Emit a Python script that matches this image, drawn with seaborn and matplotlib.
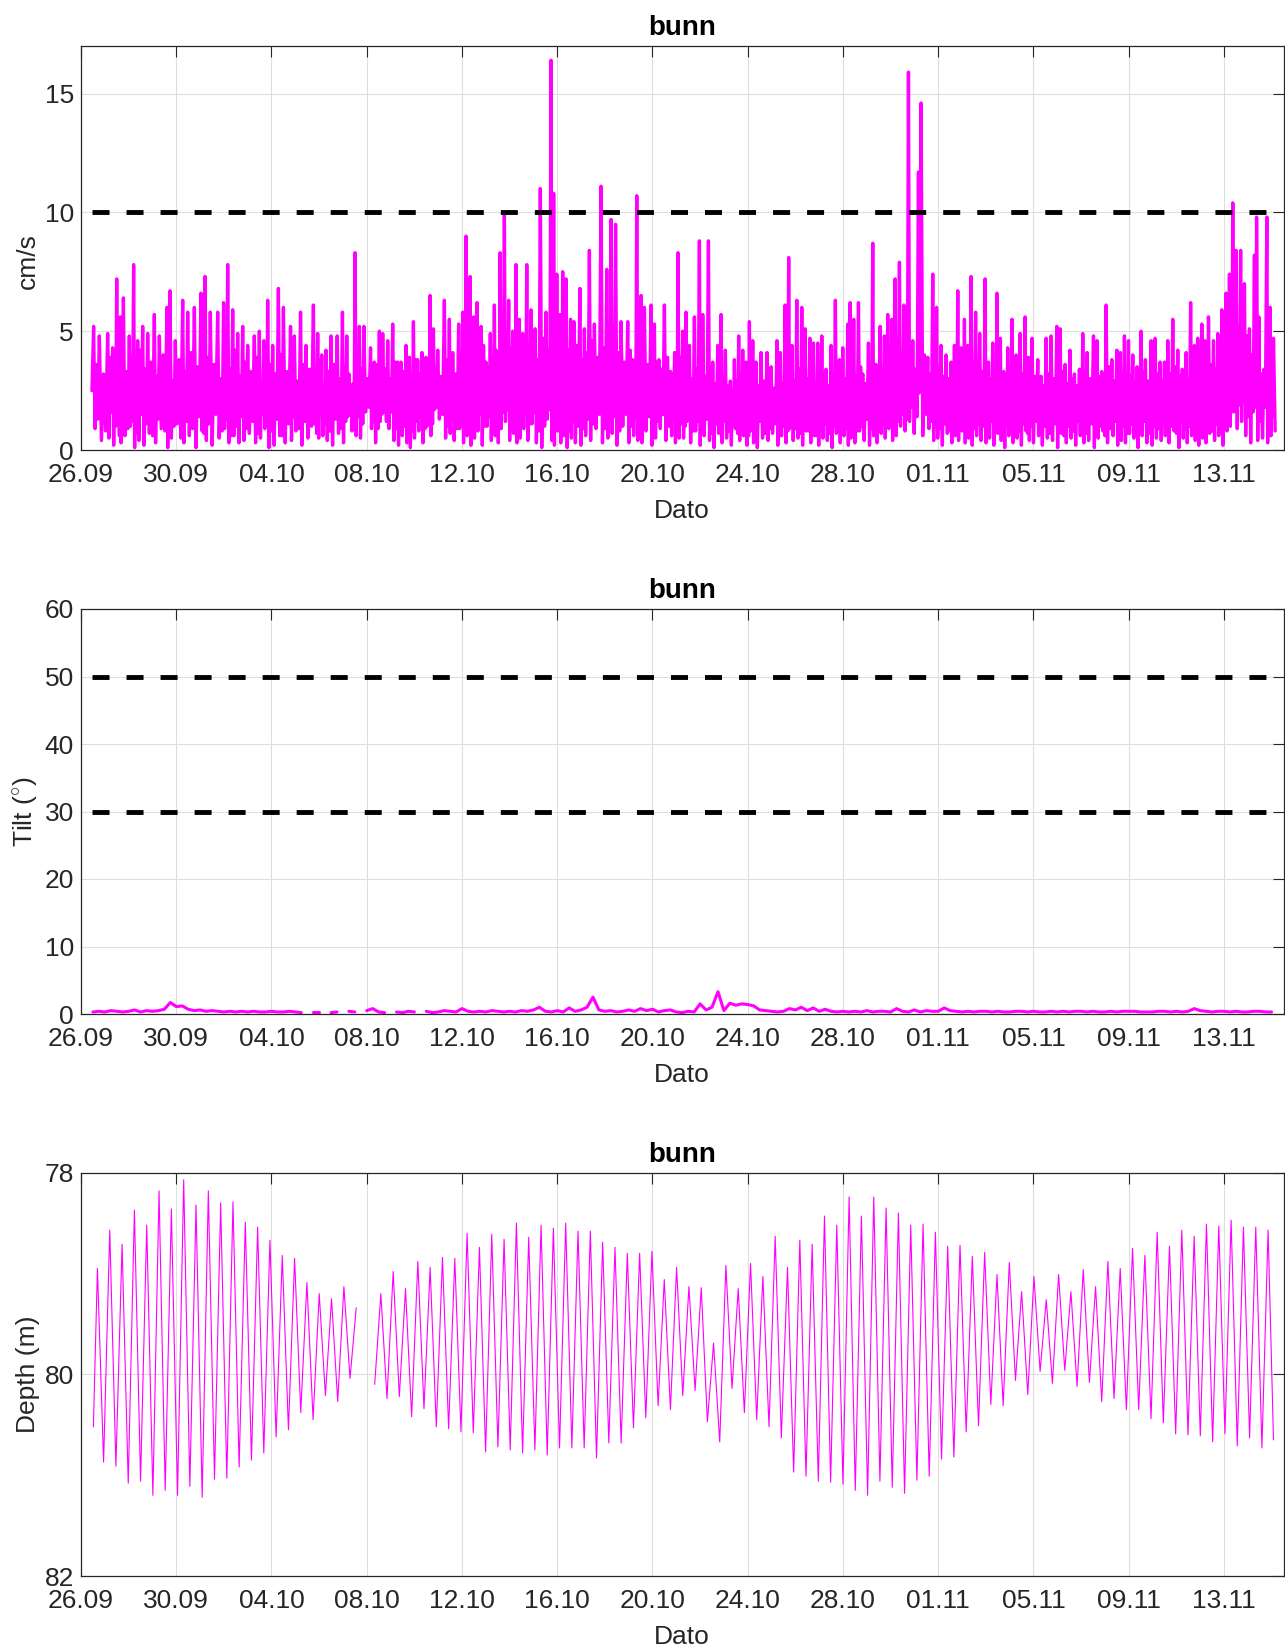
import numpy as np
import pandas as pd
import matplotlib
matplotlib.use("Agg")
import matplotlib.pyplot as plt
import matplotlib.dates as mdates
import seaborn as sns

# ---------------------------------------------------------------------------
# Data (times are days after 26.09 00:00)
# ---------------------------------------------------------------------------
START = pd.Timestamp("2022-09-26")

# Current speed (cm/s). Between two spike tops the record dips to a trough,
# rises to a smaller inner crest and dips again before the next spike.
speed_first = (0.46, 2.5)

speed_peak_day_a = [0.53, 0.77, 1.12, 1.33, 1.50, 1.65, 1.78, 2.03, 2.21, 2.38,
                    2.59, 2.80, 3.08, 3.29, 3.61, 3.74, 3.96, 4.27, 4.48, 4.76,
                    5.04, 5.21, 5.43, 5.74, 5.99, 6.16, 6.37, 6.58, 6.79, 7.00,
                    7.28, 7.49, 7.68, 7.84, 8.05, 8.29, 8.50, 8.80, 8.96, 9.22,
                    9.45, 9.76, 9.94, 10.11, 10.29, 10.50, 10.76, 10.98, 11.16, 11.34,
                    11.51, 11.69, 11.88, 12.16, 12.32, 12.53]
speed_peak_a = [5.2, 4.8, 4.9, 4.3, 7.2, 5.6, 6.4, 4.8, 7.8, 4.6,
                5.2, 4.9, 5.7, 4.8, 6.0, 6.7, 4.6, 6.3, 5.8, 6.0,
                6.6, 7.3, 5.8, 5.8, 6.2, 7.8, 5.9, 4.9, 5.2, 4.4,
                4.8, 5.0, 4.6, 6.3, 4.4, 6.8, 6.0, 5.2, 4.8, 5.8,
                4.4, 6.1, 4.9, 4.0, 4.2, 4.8, 4.8, 5.8, 4.8, 2.6,
                8.3, 5.2, 5.2, 4.3, 3.7, 5.0]
speed_trough_a = [0.9, 0.4, 0.5, 0.2, 1.2, 0.3, 0.6, 1.0, 0.1, 0.4,
                  0.2, 0.7, 0.3, 0.9, 0.1, 0.5, 1.1, 0.3, 0.6, 0.1,
                  0.8, 0.4, 0.2, 0.5, 0.9, 0.3, 0.6, 0.3, 0.4, 0.7,
                  0.3, 0.5, 0.9, 0.1, 0.2, 0.6, 0.3, 0.4, 0.8, 0.2,
                  0.5, 1.1, 0.5, 0.6, 0.4, 0.2, 0.7, 0.3, 1.4, 0.8,
                  0.6, 0.5, 1.6, 0.9, 0.3, 1.2]
speed_inner_a = [3.6, 3.2, 3.9, 2.8, 3.5, 4.1, 3.3, 3.8, 3.0, 4.2,
                 3.4, 3.7, 3.1, 4.0, 3.6, 2.9, 3.8, 3.3, 4.1, 3.5,
                 3.2, 3.9, 3.6, 3.0, 3.8, 3.4, 4.2, 3.1, 3.7, 3.3,
                 3.9, 2.8, 3.5, 3.6, 3.2, 4.0, 3.3, 3.7, 2.9, 3.6,
                 3.4, 3.1, 3.8, 2.7, 3.3, 3.6, 3.0, 3.5, 3.2, 2.8,
                 3.9, 3.4, 3.0, 2.9, 3.6, 3.3]
speed_dip_a = [1.3, 0.8, 1.6, 1.0, 0.6, 1.4, 0.9, 1.2, 0.7, 1.5,
               1.1, 0.6, 1.3, 0.8, 1.6, 1.0, 0.5, 1.2, 0.9, 1.4,
               0.7, 1.1, 1.5, 0.8, 1.3, 0.6, 1.0, 1.4, 0.9, 1.2,
               0.7, 1.5, 1.0, 0.8, 1.3, 0.6, 1.1, 1.4, 0.9, 1.2,
               1.0, 0.7, 1.5, 1.1, 0.8, 1.3, 0.9, 1.2, 1.6, 1.0,
               1.4, 1.1, 1.8, 1.2, 0.9, 1.5]

speed_peak_day_b = [12.67, 12.88, 13.09, 13.30, 13.44, 13.65, 13.79, 13.96, 14.14, 14.32,
                    14.49, 14.66, 14.80, 14.98, 15.26, 15.47, 15.61, 15.86, 16.03, 16.17,
                    16.34, 16.49, 16.63, 16.80, 17.01, 17.19, 17.36, 17.50, 17.60, 17.78,
                    17.96, 18.13, 18.27, 18.41, 18.55, 18.72, 18.90, 19.07, 19.29, 19.53,
                    19.74, 19.85, 19.98, 20.12, 20.23, 20.37, 20.56, 20.70, 20.95, 21.14,
                    21.35, 21.56, 21.84, 22.08, 22.26, 22.45, 22.68, 22.96, 23.17, 23.34,
                    23.52, 23.66, 23.94, 24.08, 24.27, 24.50, 24.76, 24.93, 25.07]
speed_peak_b = [4.9, 4.6, 5.3, 3.7, 3.7, 4.4, 3.9, 5.4, 3.8, 4.1,
                3.9, 6.5, 5.1, 4.2, 6.3, 5.5, 4.1, 5.3, 5.8, 9.0,
                7.3, 5.6, 6.2, 5.2, 3.7, 4.9, 6.1, 4.0, 8.3, 9.9,
                6.3, 5.0, 7.8, 5.5, 4.9, 7.8, 5.9, 5.1, 11.0, 5.8,
                16.4, 10.8, 7.4, 5.7, 7.5, 7.2, 5.5, 5.4, 6.8, 5.1,
                8.4, 5.3, 11.1, 7.6, 9.7, 9.5, 5.4, 5.4, 3.8, 10.7,
                6.5, 6.0, 6.1, 5.3, 3.8, 6.1, 3.3, 4.1, 8.3]
speed_trough_b = [1.6, 0.9, 0.4, 0.2, 0.6, 0.3, 0.1, 0.5, 0.8, 0.3,
                  1.0, 0.6, 1.7, 1.3, 0.5, 0.7, 0.4, 0.9, 0.3, 0.6,
                  0.2, 0.5, 0.8, 0.2, 1.0, 0.4, 0.6, 0.3, 0.9, 1.2,
                  0.4, 0.7, 0.3, 0.5, 0.9, 0.4, 1.1, 0.3, 0.1, 1.3,
                  0.4, 0.2, 0.8, 0.3, 0.6, 0.1, 0.5, 0.3, 0.2, 0.6,
                  0.4, 0.9, 0.3, 0.5, 0.7, 0.2, 1.0, 0.3, 0.6, 0.4,
                  0.3, 0.8, 0.2, 0.5, 0.9, 0.4, 0.6, 0.3, 0.5]
speed_inner_b = [3.4, 3.0, 3.7, 2.9, 3.3, 3.6, 3.1, 3.8, 3.2, 3.5,
                 3.0, 3.9, 3.4, 3.1, 3.8, 3.5, 3.2, 4.0, 3.6, 4.3,
                 3.9, 4.1, 3.7, 4.4, 3.5, 3.9, 4.2, 3.6, 4.5, 4.0,
                 4.3, 3.8, 4.6, 4.1, 3.7, 4.4, 4.0, 3.8, 4.7, 4.2,
                 4.5, 4.9, 4.3, 3.9, 4.6, 4.2, 4.0, 4.4, 3.8, 4.1,
                 4.6, 3.9, 4.3, 4.0, 4.5, 4.1, 3.7, 4.2, 3.5, 4.0,
                 3.8, 3.6, 4.1, 3.7, 3.4, 3.9, 3.2, 3.6, 3.9]
speed_dip_b = [1.2, 1.6, 0.9, 1.3, 1.0, 1.5, 0.8, 1.2, 1.4, 0.9,
               1.3, 1.1, 1.8, 1.5, 1.0, 1.3, 0.9, 1.4, 1.1, 1.6,
               0.8, 1.2, 1.5, 1.0, 1.4, 0.9, 1.3, 1.1, 1.6, 1.7,
               1.0, 1.4, 0.9, 1.2, 1.5, 1.1, 1.6, 0.8, 1.0, 1.7,
               1.2, 0.9, 1.4, 1.0, 1.3, 0.8, 1.2, 1.0, 0.9, 1.3,
               1.1, 1.5, 0.9, 1.2, 1.4, 0.8, 1.5, 1.0, 1.3, 1.1,
               0.9, 1.4, 0.8, 1.2, 1.5, 1.0, 1.3, 0.9, 1.1]

speed_peak_day_c = [25.27, 25.41, 25.55, 25.76, 25.97, 26.11, 26.35, 26.53, 26.74, 26.88,
                    27.06, 27.27, 27.44, 27.62, 27.79, 27.93, 28.07, 28.21, 28.35, 28.56,
                    28.81, 28.98, 29.23, 29.37, 29.57, 29.72, 29.86, 30.06, 30.27, 30.41,
                    30.61, 30.76, 30.94, 31.11, 31.29, 31.50, 31.68, 31.85, 31.99, 32.20,
                    32.30, 32.45, 32.65, 32.83, 33.07, 33.25, 33.39, 33.56, 33.74, 33.88,
                    34.05, 34.19, 34.37, 34.56, 34.75, 34.93, 35.17, 35.28, 35.56, 35.77,
                    35.93, 36.12, 36.33, 36.54, 36.68, 36.82, 36.96, 37.10, 37.24, 37.38,
                    37.57, 37.74]
speed_peak_c = [5.0, 5.8, 4.4, 5.6, 8.8, 5.7, 8.8, 3.7, 4.4, 5.7,
                4.2, 2.9, 3.8, 4.8, 4.2, 3.7, 5.4, 4.6, 3.7, 4.1,
                4.1, 3.5, 4.6, 4.1, 6.1, 8.1, 4.4, 6.3, 6.0, 5.1,
                4.7, 4.5, 4.5, 4.8, 3.4, 4.4, 6.3, 3.8, 4.3, 5.3,
                6.2, 5.5, 6.2, 3.2, 4.5, 8.7, 3.6, 5.2, 4.8, 5.7,
                5.5, 7.2, 7.9, 6.1, 15.9, 4.6, 11.7, 14.6, 3.9, 7.4,
                6.0, 4.4, 4.0, 3.7, 4.4, 6.7, 4.3, 5.5, 4.4, 7.3,
                5.8, 4.9]
speed_trough_c = [0.5, 1.2, 0.3, 0.8, 0.2, 0.6, 0.4, 0.1, 0.7, 0.3,
                  0.5, 0.2, 0.9, 0.4, 0.6, 0.2, 0.8, 0.3, 0.1, 0.5,
                  0.4, 0.7, 0.2, 0.6, 0.3, 0.9, 0.4, 0.5, 0.2, 0.8,
                  0.3, 0.6, 0.2, 0.5, 0.4, 0.1, 0.7, 0.3, 0.6, 0.2,
                  0.5, 0.3, 0.8, 0.4, 0.2, 0.6, 0.3, 0.7, 0.5, 0.9,
                  0.4, 0.6, 1.0, 0.8, 1.2, 0.7, 2.4, 0.6, 0.9, 0.4,
                  0.5, 0.2, 0.7, 0.3, 0.6, 0.4, 0.8, 0.3, 0.5, 0.2,
                  0.6, 0.4]
speed_inner_c = [3.3, 3.6, 3.0, 3.4, 3.8, 3.1, 3.5, 2.8, 3.2, 3.0,
                 2.7, 2.5, 2.9, 3.1, 2.8, 2.6, 3.0, 3.2, 2.7, 2.9,
                 3.1, 2.6, 3.0, 2.8, 3.3, 3.5, 2.9, 3.4, 3.2, 3.0,
                 3.1, 2.8, 3.0, 3.2, 2.7, 2.9, 3.3, 2.8, 3.0, 3.2,
                 3.4, 3.1, 3.5, 2.8, 3.2, 3.6, 3.0, 3.4, 3.3, 3.7,
                 3.5, 3.9, 4.0, 3.6, 4.2, 3.4, 4.3, 4.0, 3.2, 3.8,
                 3.5, 3.1, 3.0, 2.9, 3.2, 3.6, 3.1, 3.4, 3.2, 3.7,
                 3.5, 3.3]
speed_dip_c = [1.0, 1.4, 0.8, 1.2, 0.9, 1.3, 0.7, 1.1, 0.9, 1.2,
               0.8, 1.0, 0.7, 1.1, 0.9, 0.6, 1.0, 0.8, 1.2, 0.7,
               0.9, 1.1, 0.6, 1.0, 0.8, 1.2, 0.9, 0.7, 1.1, 0.8,
               1.0, 0.6, 0.9, 1.1, 0.7, 1.0, 0.8, 1.2, 0.9, 0.7,
               1.1, 0.8, 1.0, 1.3, 0.9, 1.2, 0.8, 1.1, 1.3, 1.0,
               1.4, 1.2, 1.5, 1.3, 1.8, 1.4, 2.6, 1.5, 1.2, 1.0,
               0.9, 1.1, 0.8, 1.0, 1.2, 0.9, 1.1, 0.8, 1.0, 0.9,
               1.1, 1.0]

speed_peak_day_d = [37.97, 38.11, 38.29, 38.47, 38.61, 38.75, 38.92, 39.10, 39.27, 39.44,
                    39.65, 39.79, 39.94, 40.18, 40.32, 40.53, 40.74, 40.98, 41.12, 41.33,
                    41.53, 41.72, 41.93, 42.07, 42.25, 42.52, 42.67, 42.87, 43.05, 43.29,
                    43.50, 43.65, 43.82, 43.99, 44.17, 44.35, 44.52, 44.70, 44.94, 45.11,
                    45.32, 45.50, 45.64, 45.85, 46.06, 46.25, 46.41, 46.60, 46.76, 46.90,
                    47.07, 47.21, 47.35, 47.56, 47.74, 47.91, 48.09, 48.23, 48.37, 48.51,
                    48.70, 48.86, 49.07, 49.28, 49.37, 49.56, 49.80, 49.94, 50.08]
speed_peak_d = [7.2, 3.7, 4.5, 6.6, 4.7, 3.3, 4.3, 5.5, 4.0, 4.9,
                5.6, 3.9, 4.7, 3.8, 3.1, 4.7, 4.8, 5.2, 5.1, 3.6,
                4.2, 3.2, 3.4, 4.9, 4.1, 4.8, 4.6, 3.3, 6.1, 3.8,
                4.2, 4.1, 4.8, 4.6, 4.0, 3.5, 5.0, 3.8, 4.6, 4.7,
                3.7, 3.7, 4.6, 5.5, 4.2, 3.4, 4.1, 6.2, 4.4, 4.7,
                5.3, 4.6, 5.6, 4.6, 4.9, 5.9, 6.6, 7.4, 10.4, 8.4,
                8.4, 7.0, 5.1, 8.2, 9.8, 3.2, 9.8, 6.0, 4.7]
# last entry is the final sample of the record
speed_trough_d = [0.3, 0.5, 0.2, 0.7, 0.4, 0.1, 0.6, 0.3, 0.5, 0.2,
                  0.8, 0.4, 0.3, 0.6, 0.2, 0.5, 0.4, 0.1, 0.7, 0.3,
                  0.5, 0.2, 0.6, 0.3, 0.4, 0.1, 0.5, 0.8, 0.3, 0.6,
                  0.2, 0.4, 0.3, 0.7, 0.5, 0.1, 0.6, 0.3, 0.2, 0.5,
                  0.4, 0.6, 0.3, 0.8, 0.1, 0.5, 0.3, 0.6, 0.4, 0.2,
                  0.5, 0.3, 0.7, 0.4, 0.6, 0.2, 0.8, 1.0, 1.6, 0.9,
                  1.2, 0.6, 0.3, 1.8, 0.4, 0.5, 0.3, 0.6, 0.8]
speed_inner_d = [3.5, 3.0, 3.2, 3.6, 3.1, 2.8, 3.0, 3.4, 2.9, 3.2,
                 3.5, 2.8, 3.1, 2.9, 2.7, 3.2, 3.0, 3.4, 3.3, 2.8,
                 3.0, 2.7, 2.9, 3.2, 3.0, 3.3, 3.1, 2.8, 3.5, 2.9,
                 3.1, 3.0, 3.2, 3.1, 2.9, 2.8, 3.3, 2.9, 3.1, 3.2,
                 2.9, 3.0, 3.2, 3.5, 3.1, 2.8, 3.0, 3.6, 3.2, 3.3,
                 3.5, 3.2, 3.6, 3.4, 3.5, 3.9, 4.2, 4.6, 5.8, 5.2,
                 5.5, 4.8, 4.0, 5.0, 5.6, 3.4, 5.2, 4.4]
speed_dip_d = [0.9, 1.2, 0.8, 1.1, 0.7, 1.0, 0.9, 1.3, 0.8, 1.1,
               0.7, 1.0, 1.2, 0.8, 1.0, 0.7, 1.1, 0.9, 0.6, 1.0,
               0.8, 1.2, 0.9, 0.7, 1.1, 0.8, 1.0, 0.6, 0.9, 1.2,
               0.8, 1.0, 0.7, 1.1, 0.9, 0.8, 1.2, 0.7, 1.0, 0.9,
               1.1, 0.8, 1.0, 0.7, 1.2, 0.9, 1.0, 0.8, 1.1, 0.9,
               1.0, 1.2, 0.8, 1.1, 0.9, 1.3, 1.5, 1.8, 2.2, 1.9,
               2.0, 1.4, 1.6, 2.4, 1.2, 1.8, 1.0, 1.4]
speed_last_day = 50.15

# Tilt (degrees), sampled every 6 hours from day 0.5; NaN = no valid sample
tilt_first_day = 0.5
tilt_step_day = 0.25
nan = np.nan
tilt = [0.3, 0.4,
        0.3, 0.5, 0.4, 0.3,  0.4, 0.6, 0.3, 0.5,  0.4, 0.5, 0.7, 1.7,  1.1, 1.2, 0.7, 0.5,
        0.6, 0.4, 0.5, 0.4,  0.3, 0.4, 0.3, 0.4,  0.3, 0.4, 0.3, 0.3,  0.4, 0.3, 0.3, 0.4,
        0.3, 0.2, nan, 0.3,  0.3, nan, 0.2, 0.3,  nan, 0.4, 0.3, nan,  0.5, 0.8, 0.3, 0.2,
        nan, 0.3, 0.2, 0.4,  0.3, nan, 0.4, 0.2,  0.3, 0.5, 0.4, 0.3,  0.8, 0.4, 0.3, 0.4,
        0.3, 0.5, 0.4, 0.3,  0.4, 0.3, 0.5, 0.4,  0.6, 1.0, 0.4, 0.3,  0.5, 0.3, 0.9, 0.4,
        0.6, 1.0, 2.5, 0.6,  0.4, 0.5, 0.3, 0.4,  0.6, 0.4, 0.8, 0.5,  0.7, 0.3, 0.5, 0.6,
        0.3, 0.2, 0.4, 0.3,  1.5, 0.6, 1.0, 3.3,  0.5, 1.6, 1.3, 1.5,  1.4, 1.2, 0.6, 0.5,
        0.4, 0.3, 0.4, 0.8,  0.6, 1.0, 0.5, 0.9,  0.4, 0.7, 0.4, 0.3,  0.4, 0.3, 0.4, 0.3,
        0.5, 0.3, 0.4, 0.4,  0.3, 0.8, 0.4, 0.3,  0.6, 0.3, 0.5, 0.4,  0.4, 0.9, 0.5, 0.4,
        0.3, 0.4, 0.3, 0.4,  0.4, 0.3, 0.4, 0.3,  0.3, 0.4, 0.4, 0.3,  0.4, 0.3, 0.3, 0.4,
        0.3, 0.4, 0.3, 0.4,  0.4, 0.3, 0.4, 0.3,  0.3, 0.4, 0.3, 0.4,  0.4, 0.4, 0.3, 0.3,
        0.3, 0.4, 0.4, 0.3,  0.4, 0.3, 0.4, 0.8,  0.5, 0.4, 0.3, 0.4,  0.4, 0.3, 0.4, 0.3,
        0.3, 0.4, 0.4, 0.3,  0.3]

# Depth (m): successive tidal high waters (shallow) and low waters (deep)
depth_first = (0.52, 80.52)
depth_last = (50.08, 80.65)
depth_first_turn_day = 0.69
depth_half_tide_day = 0.25875
depth_high = [78.95, 78.57, 78.71, 78.37, 78.52, 78.18, 78.36, 78.07, 78.32, 78.18,
              78.30, 78.29, 78.49, 78.54, 78.67, 78.82, 78.85, 79.09, 79.20, 79.25,
              79.13, 79.34, nan, 79.20, 78.98, 79.15, 78.88, 78.94, 78.84, 78.85,
              78.60, 78.74, 78.61, 78.66, 78.50, 78.64, 78.52, 78.55, 78.50, 78.58,
              78.58, 78.69, 78.74, 78.80, 78.80,
              78.78, 79.06, 78.94, 79.13, 79.14, 79.69, 78.92, 79.15, 78.90, 79.03,
              78.63, 78.94, 78.67, 78.71, 78.43, 78.52, 78.24, 78.43, 78.24, 78.35,
              78.40, 78.52, 78.51, 78.59, 78.73, 78.72, 78.83, 78.79, 79.01, 78.89,
              79.18, 79.03, 79.26, 79.01, 79.18, 78.96, 79.13, 78.88, 78.95, 78.75,
              78.82, 78.59, 78.73, 78.57, 78.63, 78.51, 78.53, 78.47, 78.54, 78.54,
              78.57]
depth_low = [80.87, 80.91, 81.08, 81.06, 81.20, 81.15, 81.20, 81.11, 81.22, 81.04,
             81.03, 80.92, 80.85, 80.78, 80.62, 80.55, 80.38, 80.45, 80.21, 80.27,
             80.04, nan, 80.10, 80.24, 80.22, 80.42, 80.34, 80.52, 80.54, 80.57,
             80.58, 80.77, 80.72, 80.75, 80.78, 80.75, 80.80, 80.73, 80.73, 80.73,
             80.83, 80.68, 80.68, 80.53, 80.43,
             80.31, 80.35, 80.21, 80.16, 80.47, 80.67, 80.14, 80.38, 80.45, 80.52,
             80.63, 80.97, 81.01, 81.06, 81.07, 81.09, 81.15, 81.20, 81.06, 81.12,
             81.18, 81.05, 81.01, 80.84, 80.82, 80.57, 80.51, 80.30, 80.31, 80.06,
             80.20, 79.97, 80.09, 79.96, 80.12, 80.08, 80.27, 80.24, 80.35, 80.35,
             80.44, 80.48, 80.59, 80.60, 80.61, 80.67, 80.59, 80.71, 80.63, 80.73]

speed_limit = 10
tilt_limits = [30, 50]
tick_dates = pd.date_range(START, periods=13, freq="4D")

# ---------------------------------------------------------------------------
# Assemble the series
# ---------------------------------------------------------------------------
peak_day = np.concatenate([speed_peak_day_a, speed_peak_day_b, speed_peak_day_c, speed_peak_day_d])
peak_val = np.concatenate([speed_peak_a, speed_peak_b, speed_peak_c, speed_peak_d])
trough_val = np.concatenate([speed_trough_a, speed_trough_b, speed_trough_c, speed_trough_d])
inner_val = np.concatenate([speed_inner_a, speed_inner_b, speed_inner_c, speed_inner_d])
dip_val = np.concatenate([speed_dip_a, speed_dip_b, speed_dip_c, speed_dip_d])

gap = np.diff(peak_day)
cycle_day = np.column_stack([peak_day[:-1], peak_day[:-1] + 0.25 * gap,
                             peak_day[:-1] + 0.5 * gap, peak_day[:-1] + 0.75 * gap]).ravel()
cycle_val = np.column_stack([peak_val[:-1], trough_val[:-1], inner_val, dip_val]).ravel()
sp_day = np.concatenate([[speed_first[0]], cycle_day, [peak_day[-1], speed_last_day]])
sp_val = np.concatenate([[speed_first[1]], cycle_val, [peak_val[-1], trough_val[-1]]])
speed_df = pd.DataFrame({"time": START + pd.to_timedelta(sp_day, unit="D"), "speed": sp_val})

tilt_day = tilt_first_day + tilt_step_day * np.arange(len(tilt))
tilt_df = pd.DataFrame({"time": START + pd.to_timedelta(tilt_day, unit="D"), "tilt": tilt})

turns = np.empty(len(depth_high) + len(depth_low))
turns[0::2] = depth_high
turns[1::2] = depth_low
turn_day = depth_first_turn_day + depth_half_tide_day * np.arange(len(turns))
dp_day = np.concatenate([[depth_first[0]], turn_day, [depth_last[0]]])
dp_val = np.concatenate([[depth_first[1]], turns, [depth_last[1]]])
depth_df = pd.DataFrame({"time": START + pd.to_timedelta(dp_day, unit="D"), "depth": dp_val})


def with_segments(df, col):
    """Give each unbroken run of samples its own id so gaps stay open."""
    out = df.copy()
    out["seg"] = out[col].isna().cumsum()
    return out.dropna(subset=[col])


tilt_df = with_segments(tilt_df, "tilt")
depth_df = with_segments(depth_df, "depth")

# ---------------------------------------------------------------------------
# Styling
# ---------------------------------------------------------------------------
sns.set_style("white")
ink = "#262626"
plt.rcParams.update({
    "font.family": ["Liberation Sans", "DejaVu Sans"],
    "mathtext.fontset": "custom",
    "mathtext.rm": "Liberation Sans",
    "axes.edgecolor": ink,
    "axes.linewidth": 0.9,
    "axes.labelcolor": ink,
    "xtick.color": ink,
    "ytick.color": ink,
    "xtick.direction": "in",
    "ytick.direction": "in",
    "xtick.top": True,
    "ytick.right": True,
})

MAGENTA = "#ff00ff"
W, H = 1285, 1647
fig = plt.figure(figsize=(W / 100, H / 100), dpi=100)


def frame(top_px, bottom_px):
    left, right = 81, 1283.5
    return fig.add_axes([left / W, 1 - bottom_px / H, (right - left) / W, (bottom_px - top_px) / H])


ax1 = frame(46, 450)
ax2 = frame(609, 1014)
ax3 = frame(1172.7, 1576)

sns.lineplot(data=speed_df, x="time", y="speed", color=MAGENTA, lw=2.4,
             estimator=None, ax=ax1)
sns.lineplot(data=tilt_df, x="time", y="tilt", units="seg", color=MAGENTA, lw=2.2,
             estimator=None, ax=ax2)
sns.lineplot(data=depth_df, x="time", y="depth", units="seg", color=MAGENTA, lw=0.8,
             estimator=None, ax=ax3)

t0, t1 = speed_df["time"].iloc[0], speed_df["time"].iloc[-1]
ax1.plot([t0, t1], [speed_limit, speed_limit], color="black", lw=3.5,
         dashes=(3.5, 3.5), zorder=3)
for lim in tilt_limits:
    ax2.plot([t0, t1], [lim, lim], color="black", lw=3.5, dashes=(3.5, 3.5), zorder=3)

ax1.set_ylim(0, 17)
ax1.set_yticks([0, 5, 10, 15])
ax2.set_ylim(0, 60)
ax2.set_yticks(np.arange(0, 61, 10))
ax3.set_ylim(82, 78)
ax3.set_yticks([78, 80, 82])

ylabels = ["cm/s", r"Tilt ($^{\circ}$)", "Depth (m)"]
ylabel_y = [0.467, 0.5, 0.5]
for ax, lab, ly in zip((ax1, ax2, ax3), ylabels, ylabel_y):
    ax.set_xlim(START, START + pd.Timedelta(days=50.5))
    ax.set_xticks(tick_dates)
    ax.xaxis.set_major_formatter(mdates.DateFormatter("%d.%m"))
    ax.grid(True, color="#dedede", lw=0.8)
    ax.set_axisbelow(True)
    ax.tick_params(axis="both", which="major", labelsize=19, length=8, width=0.8)
    ax.tick_params(axis="x", pad=9)
    ax.tick_params(axis="y", pad=5)
    ax.set_xlabel("Dato", fontsize=19, labelpad=9)
    ax.set_ylabel(lab, fontsize=19)
    ax.yaxis.set_label_coords(-0.034, ly)
    ax.set_title("bunn", fontsize=20, fontweight="bold", color="black", pad=8)
    for s in ax.spines.values():
        s.set_visible(True)
        s.set_color(ink)

fig.savefig("out.png", dpi=100)
